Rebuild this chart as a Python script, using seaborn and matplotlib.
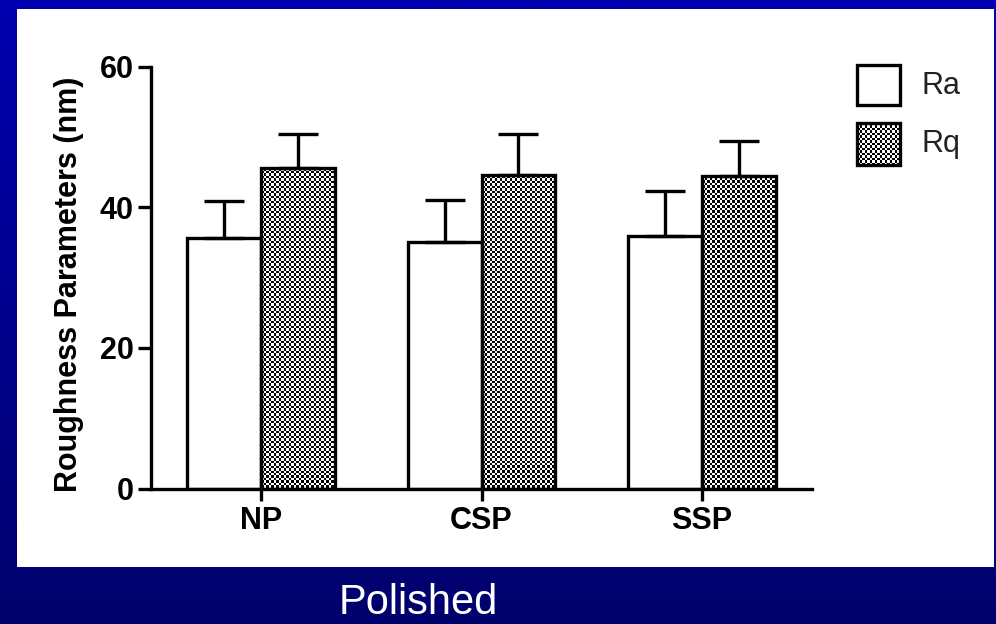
import numpy as np
import pandas as pd
import matplotlib
matplotlib.use("Agg")
import matplotlib.pyplot as plt
import seaborn as sns
from matplotlib.patches import Rectangle
from matplotlib.colors import LinearSegmentedColormap

# ------------------------------------------------------------
# data
# ------------------------------------------------------------
groups = ["NP", "CSP", "SSP"]
params = ["Ra", "Rq"]
ra_mean = [35.6, 35.0, 35.9]
rq_mean = [45.6, 44.6, 44.4]
ra_sd = [5.3, 6.0, 6.4]
rq_sd = [4.8, 5.8, 5.0]
y_ticks = [0, 20, 40, 60]

df = pd.DataFrame({
    "group": groups * 2,
    "param": ["Ra"] * 3 + ["Rq"] * 3,
    "value": ra_mean + rq_mean,
})
sd = {"Ra": ra_sd, "Rq": rq_sd}

sns.set_theme(style="ticks")
plt.rcParams['font.family'] = ['Liberation Sans', 'DejaVu Sans']

W, H = 996, 624
fig = plt.figure(figsize=(W / 100, H / 100), dpi=100)

# ------------------------------------------------------------
# slide background: blue gradient + white panel
# ------------------------------------------------------------
bg = fig.add_axes([0, 0, 1, 1], zorder=-5)
grad = np.linspace(0, 1, 256).reshape(-1, 1)
cmap_bg = LinearSegmentedColormap.from_list("bg", ["#0000b0", "#00006c"])
bg.imshow(grad, aspect='auto', cmap=cmap_bg, extent=[0, W, H, 0], origin='upper')
bg.add_patch(Rectangle((17, 9), 977, 558, facecolor='white', edgecolor='none'))
bg.set_xlim(0, W)
bg.set_ylim(H, 0)
bg.axis('off')
bg.text(418, 603, "Polished", color='white', fontsize=30,
        ha='center', va='center')

# ------------------------------------------------------------
# main bar chart
# ------------------------------------------------------------
ax = fig.add_axes([151 / W, 1 - 488.5 / H, 661 / W, 421.8 / H])
ax.set_facecolor('none')

sns.barplot(data=df, x="group", y="value", hue="param", hue_order=params,
            order=groups, palette=["white", "white"], edgecolor="black",
            linewidth=2.4, errorbar=None, width=0.67, gap=0, legend=False,
            ax=ax)

# checkerboard fill for Rq bars
rows, cols = 169, 264
checker = np.add.outer(np.arange(rows), np.arange(cols)) % 2
for bar in ax.containers[1]:
    bar.set_facecolor('none')
    im = ax.imshow(checker, extent=(-0.5, 2.5, 0, 60), aspect='auto',
                   interpolation='nearest', cmap='gray', vmin=0, vmax=1,
                   zorder=0.5)
    im.set_clip_path(bar)

# upper-only error bars (mean + SD)
for cont, p in zip(ax.containers, params):
    xs = [b.get_x() + b.get_width() / 2 for b in cont]
    ys = [b.get_height() for b in cont]
    ax.errorbar(xs, ys, yerr=[np.zeros(len(xs)), sd[p]], fmt='none',
                ecolor='black', elinewidth=2.4, capsize=14.4, capthick=2.4,
                zorder=3)

ax.set_xlim(-0.5, 2.5)
ax.set_ylim(0, 60)
ax.set_yticks(y_ticks)
sns.despine(ax=ax)
for s in ["left", "bottom"]:
    ax.spines[s].set_linewidth(2.4)
    ax.spines[s].set_color('black')
ax.tick_params(axis='y', width=2.4, length=9.4, pad=3.0, labelsize=22,
               colors='black')
ax.tick_params(axis='x', width=2.4, length=8.6, pad=4.0, labelsize=22,
               colors='black')
for lab in ax.get_xticklabels() + ax.get_yticklabels():
    lab.set_fontweight('bold')
ax.set_xlabel("")
ax.set_ylabel("Roughness Parameters (nm)", fontsize=22, fontweight='bold',
              color='black')
ax.yaxis.set_label_coords(-0.101, 0.485)

# ------------------------------------------------------------
# legend (drawn in pixel coordinates)
# ------------------------------------------------------------
lg = fig.add_axes([0, 0, 1, 1], zorder=5)
lg.set_facecolor('none')
lg.imshow(np.add.outer(np.arange(17), np.arange(17)) % 2,
          extent=(857, 900, 165, 123), aspect='auto',
          interpolation='nearest', cmap='gray', vmin=0, vmax=1)
lg.add_patch(Rectangle((857, 65), 43, 40, facecolor='white',
                       edgecolor='black', linewidth=2.4))
lg.add_patch(Rectangle((857, 123), 43, 42, facecolor='none',
                       edgecolor='black', linewidth=2.4))
lg.text(922, 86, params[0], fontsize=22, ha='left', va='center', color='#222222')
lg.text(922, 144, params[1], fontsize=22, ha='left', va='center', color='#222222')
lg.set_xlim(0, W)
lg.set_ylim(H, 0)
lg.axis('off')

fig.savefig("out.png", dpi=100)
